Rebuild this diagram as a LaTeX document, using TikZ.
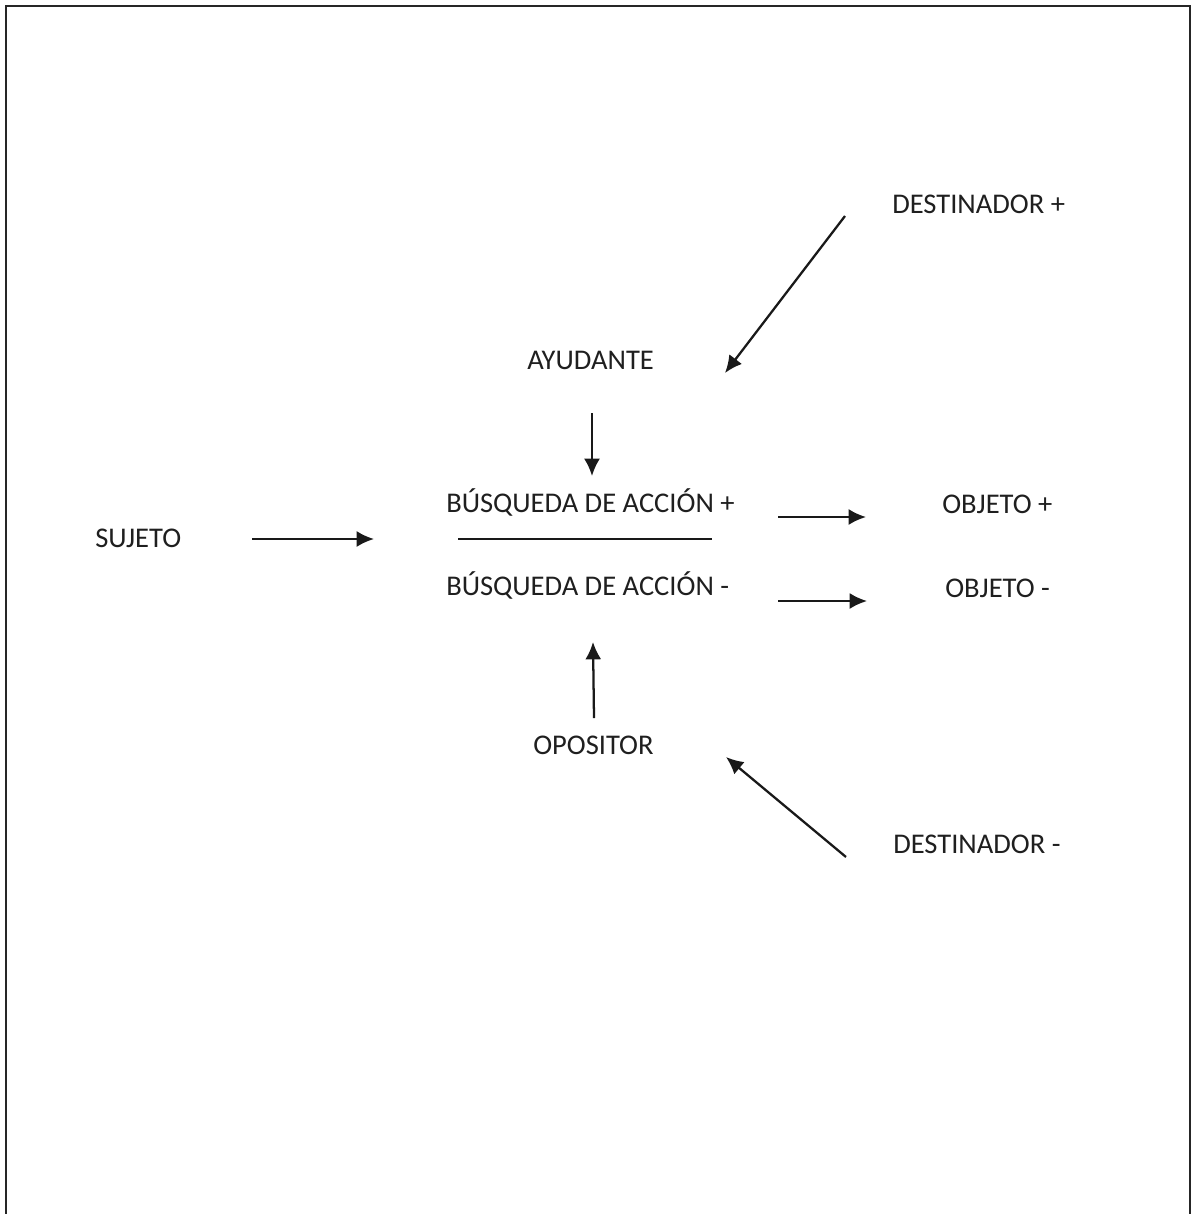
\documentclass[tikz,border=0pt]{standalone}
\usepackage{fontspec}
\setmainfont{Carlito}
\usetikzlibrary{arrows.meta}
\begin{document}
\begin{tikzpicture}[x=0.75pt,y=-0.75pt,
  lbl/.style={anchor=base west,inner sep=0pt,font=\fontsize{21.4}{25}\selectfont,text=black!88},
  arr/.style={line width=1.7pt,draw=black!90,-{Latex[length=13pt,width=12pt]}},
  frame/.style={line width=2.2pt,draw=black!85}]
\useasboundingbox (0,0) rectangle (1194,1214);
\draw[frame] (6,1216) -- (6,6) -- (1190,6) -- (1190,1216);
% labels
\node[lbl] (destp) at (892,213) {DESTINADOR +};
\node[lbl] (ayud) at (527,369) {AYUDANTE};
\node[lbl] (busqp) at (446,512) {BÚSQUEDA DE ACCIÓN +};
\node[lbl] (busqm) at (446,595) {BÚSQUEDA DE ACCIÓN -};
\node[lbl] (suj) at (95,547) {SUJETO};
\node[lbl] (objp) at (942,513) {OBJETO +};
\node[lbl] (objm) at (945,597) {OBJETO -};
\node[lbl] (opos) at (533,754) {OPOSITOR};
\node[lbl] (destm) at (893,853) {DESTINADOR -};
% connector end points
\coordinate (dp1) at (845,216);
\coordinate (dp2) at (725,373);
\coordinate (ay1) at (592,413);
\coordinate (ay2) at (592,476);
\coordinate (sj1) at (252,539);
\coordinate (sj2) at (374,539);
\coordinate (op1) at (778,517);
\coordinate (op2) at (866,517);
\coordinate (om1) at (778,601);
\coordinate (om2) at (867,601);
\coordinate (os1) at (594,718);
\coordinate (os2) at (593,642);
\coordinate (dm1) at (846,857);
\coordinate (dm2) at (726,757);
\coordinate (sep1) at (458,539);
\coordinate (sep2) at (712,539);
% connectors
\draw[arr] (dp1) -- (dp2);
\draw[arr] (ay1) -- (ay2);
\draw[arr] (sj1) -- (sj2);
\draw[arr] (op1) -- (op2);
\draw[arr] (om1) -- (om2);
\draw[arr] (os1) -- (os2);
\draw[arr] (dm1) -- (dm2);
\draw[line width=1.2pt,draw=black!90] (sep1) -- (sep2);
\end{tikzpicture}
\end{document}
